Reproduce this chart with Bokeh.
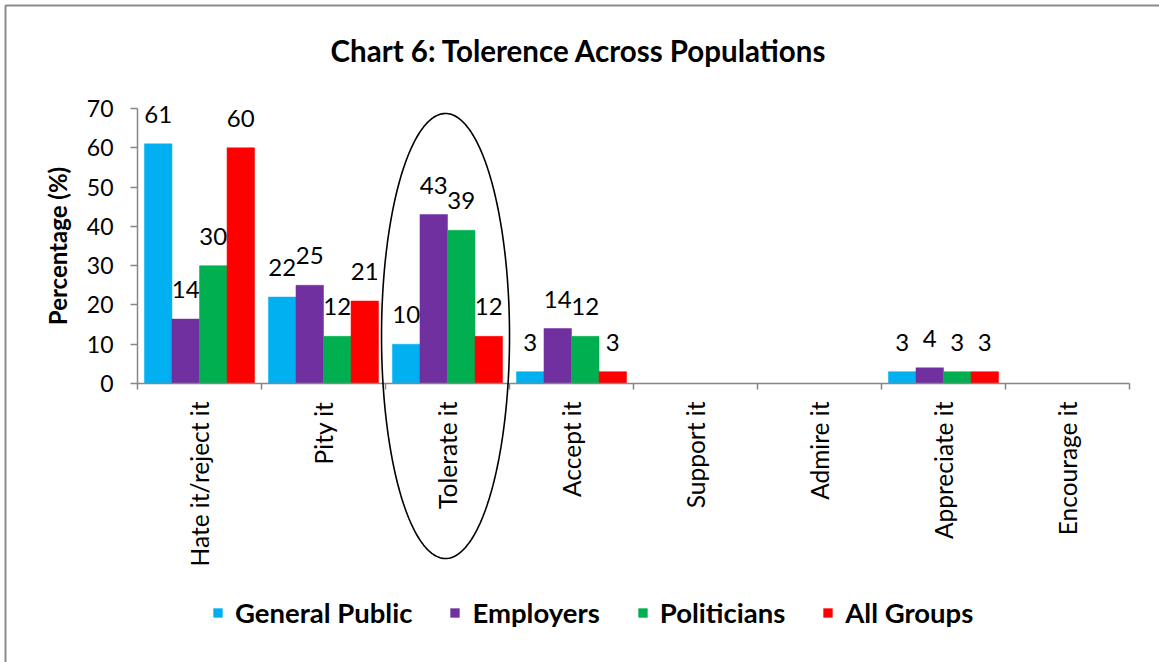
import numpy as np
from bokeh.plotting import figure
from bokeh.models import (ColumnDataSource, Range1d, FixedTicker, Legend, LegendItem,
                          PolyAnnotation, BoxAnnotation, LabelSet, Label)
from bokeh.transform import dodge
from bokeh.core.properties import value
from bokeh.embed import file_html
from bokeh.resources import INLINE

# ---- data ----
categories = ["Hate it/reject it", "Pity it", "Tolerate it", "Accept it",
              "Support it", "Admire it", "Appreciate it", "Encourage it"]
general_public = [61, 22, 10, 3, 0, 0, 3, 0]
employers = [16.4, 25, 43, 14, 0, 0, 4, 0]
politicians = [30, 12, 39, 12, 0, 0, 3, 0]
all_groups = [60, 21, 12, 3, 0, 0, 3, 0]
general_public_labels = ["61", "22", "10", "3", "", "", "3", ""]
employers_labels = ["14", "25", "43", "14", "", "", "4", ""]
politicians_labels = ["30", "12", "39", "12", "", "", "3", ""]
all_groups_labels = ["60", "21", "12", "3", "", "", "3", ""]
series_names = ["General Public", "Employers", "Politicians", "All Groups"]
series_colors = ["#00B0F0", "#7030A0", "#00B050", "#FF0000"]
y_ticks = [0, 10, 20, 30, 40, 50, 60, 70]
highlight = "Tolerate it"

FONT = "Lato"

# ---- layout (pixels) ----
W, H = 1159, 662
FRAME_L, FRAME_R = 137, 1129
Y0_PX, YTOP_PX = 383, 108
Y_MAX = 70
N = len(categories)
PPX = (FRAME_R - FRAME_L) / N
PPY = (Y0_PX - YTOP_PX) / Y_MAX


def px_x(px):
    return (px - FRAME_L) / PPX


def px_y(py):
    return (Y0_PX - py) / PPY


xc = [i + 0.5 for i in range(N)]
src = ColumnDataSource(dict(
    x=xc, gp=general_public, emp=employers, pol=politicians, all=all_groups,
    gp_lbl=general_public_labels, emp_lbl=employers_labels,
    pol_lbl=politicians_labels, all_lbl=all_groups_labels))
series_keys = ["gp", "emp", "pol", "all"]

p = figure(width=W, height=H, output_backend="svg", toolbar_location=None,
           x_range=Range1d(px_x(0), px_x(W)), y_range=Range1d(px_y(H), px_y(0)),
           min_border=0)
p.outline_line_color = None
p.grid.visible = False
p.background_fill_color = "white"
p.border_fill_color = "white"

bw = 0.222
offsets = [-1.5 * bw, -0.5 * bw, 0.5 * bw, 1.5 * bw]
renderers = []
for key, col, off in zip(series_keys, series_colors, offsets):
    r = p.vbar(x=dodge("x", off, range=p.x_range), top=key, width=bw, source=src,
               fill_color=col, line_color=col, line_width=0.5)
    renderers.append(r)
    p.add_layout(LabelSet(x=dodge("x", off, range=p.x_range), y=key, text=key + "_lbl",
                          source=src, text_align="center", text_baseline="alphabetic",
                          y_offset=21, text_font=value(FONT), text_font_size=value("24px"),
                          text_color="black"))

# x axis at y=0: boundary ticks as minor ticks, labels at centers
xax = p.xaxis[0]
xax.fixed_location = 0
xax.bounds = (0, N)
xax.ticker = FixedTicker(ticks=xc, minor_ticks=list(range(N + 1)))
xax.major_label_overrides = {c: lab for c, lab in zip(xc, categories)}
xax.major_label_orientation = np.pi / 2
xax.major_tick_line_color = None
xax.minor_tick_line_color = "#868686"
xax.minor_tick_out = 6
xax.minor_tick_in = 0
xax.axis_line_color = "#868686"
xax.axis_line_width = 1.5
xax.minor_tick_line_width = 1.5
xax.major_label_standoff = 12
xax.major_label_text_font = FONT
xax.major_label_text_font_size = "24.5px"
xax.major_label_text_color = "black"

yax = p.yaxis[0]
yax.fixed_location = 0
yax.bounds = (0, Y_MAX)
yax.ticker = FixedTicker(ticks=y_ticks, minor_ticks=[])
yax.axis_line_color = "#868686"
yax.axis_line_width = 1.5
yax.major_tick_line_color = "#868686"
yax.major_tick_line_width = 1.5
yax.major_tick_out = 7
yax.major_tick_in = 0
yax.major_label_standoff = 17
yax.major_label_text_font = FONT
yax.major_label_text_font_size = "23px"
yax.major_label_text_color = "black"
yax.axis_label = "Percentage (%)"
yax.axis_label_text_font = FONT
yax.axis_label_text_font_style = "bold"
yax.axis_label_text_font_size = "24px"
yax.axis_label_text_color = "black"
yax.axis_label_standoff = 12

# title
p.add_layout(Label(x=px_x(582), y=px_y(50), text="Chart 6:  Tolerence Across Populations",
                   text_align="center", text_baseline="middle", text_font=FONT,
                   text_font_style="bold", text_font_size="29.5px", text_color="black"))

# ellipse highlight around "Tolerate it"
hi = categories.index(highlight) + 0.5
t = np.linspace(0, 2 * np.pi, 240)
ell_cx = hi - 0.016
ell_rx = 64 / PPX
ell_ry = 222.5 / PPY
ell_cy = px_y(335.5)
ell = PolyAnnotation(xs=list(ell_cx + ell_rx * np.cos(t)), ys=list(ell_cy + ell_ry * np.sin(t)),
                     fill_alpha=0, line_color="black", line_alpha=1, line_width=1.6)
p.add_layout(ell)

# outer chart border (only top/left visible in the crop)
p.add_layout(BoxAnnotation(left=px_x(5), right=px_x(W + 20), top=px_y(5), bottom=px_y(H + 20),
                           fill_alpha=0, line_color="#8C8C8C", line_alpha=1, line_width=2))

legend = Legend(items=[LegendItem(label=n, renderers=[r]) for n, r in zip(series_names, renderers)],
                orientation="horizontal", location=(212, 33),
                glyph_width=11, glyph_height=11, label_standoff=12, spacing=37,
                padding=0, margin=0, border_line_color=None, background_fill_alpha=0,
                label_text_font=FONT, label_text_font_style="bold",
                label_text_font_size="27.5px", label_text_color="black")
p.add_layout(legend, "center")

open("out.html", "w").write(file_html(p, INLINE))
